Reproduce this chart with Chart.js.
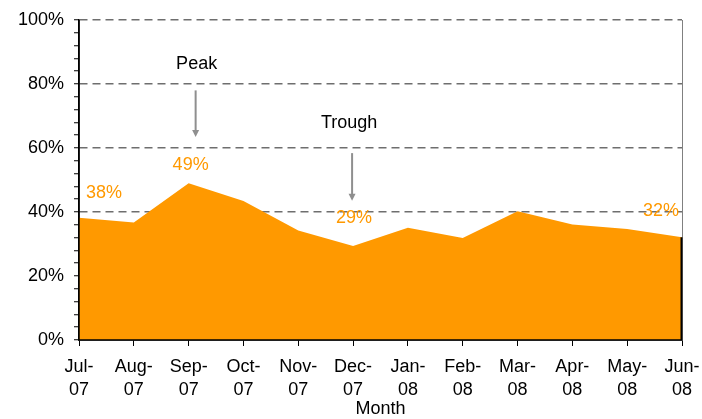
<!DOCTYPE html>
<html><head><meta charset="utf-8">
<script src="https://cdn.jsdelivr.net/npm/chart.js@4"></script>
<style>html,body{margin:0;padding:0;background:#fff}</style>
</head><body>
<canvas id="c" width="702" height="419"></canvas>
<script>
// ---- data ----
const monthLabels = [["Jul-","07"],["Aug-","07"],["Sep-","07"],["Oct-","07"],["Nov-","07"],["Dec-","07"],
                     ["Jan-","08"],["Feb-","08"],["Mar-","08"],["Apr-","08"],["May-","08"],["Jun-","08"]];
const shareValues = [38.2, 36.7, 49.0, 43.4, 34.2, 29.4, 35.1, 31.9, 40.2, 36.1, 34.7, 32.1];
const yMin = 0, yMax = 100, yMinorStep = 4, yMajorStep = 20;
const labelledIndices = [0, 2, 5, 11];
const peakIndex = 2, troughIndex = 5;
const axisTitle = "Month";

// ---- styles ----
const FONT = "'Liberation Sans', Arial, sans-serif";
const ORANGE = '#FF9900';
const labelOffsets = [[25,-25],[2,-18],[1,-28],[-21,-26]];

function arrow(ctx, x, y1, y2){
  ctx.strokeStyle = '#8f8f8f'; ctx.fillStyle = '#8f8f8f'; ctx.lineWidth = 2;
  ctx.beginPath(); ctx.moveTo(x, y1); ctx.lineTo(x, y2 - 5); ctx.stroke();
  ctx.beginPath(); ctx.moveTo(x - 3.5, y2 - 7); ctx.lineTo(x + 3.5, y2 - 7); ctx.lineTo(x, y2); ctx.closePath(); ctx.fill();
}

const overlay = {
  id: 'overlay',
  afterDatasetsDraw(chart){
    const {ctx, chartArea: a, scales: {x, y}} = chart;
    ctx.save();
    // right plot border
    ctx.strokeStyle = '#808080'; ctx.lineWidth = 1;
    ctx.beginPath(); ctx.moveTo(a.right + 0.5, a.top); ctx.lineTo(a.right + 0.5, a.bottom); ctx.stroke();
    // black edge at last point
    const li = shareValues.length - 1;
    const lx = x.getPixelForValue(li);
    ctx.strokeStyle = '#000'; ctx.lineWidth = 2;
    ctx.beginPath(); ctx.moveTo(lx - 0.5, y.getPixelForValue(shareValues[li])); ctx.lineTo(lx - 0.5, y.getPixelForValue(0)); ctx.stroke();
    // axes lines on top
    ctx.lineWidth = 1.5;
    ctx.beginPath(); ctx.moveTo(a.left, a.top); ctx.lineTo(a.left, a.bottom); ctx.lineTo(a.right, a.bottom); ctx.stroke();
    // annotations
    const px = x.getPixelForValue(peakIndex), tx = x.getPixelForValue(troughIndex);
    arrow(ctx, px + 7, y.getPixelForValue(78), y.getPixelForValue(63.4));
    arrow(ctx, tx - 1, y.getPixelForValue(58.4), y.getPixelForValue(43.5));
    ctx.font = '18px ' + FONT; ctx.fillStyle = '#000'; ctx.textAlign = 'center'; ctx.textBaseline = 'middle';
    ctx.fillText('Peak', px + 8, y.getPixelForValue(86.3));
    ctx.fillText('Trough', tx - 4, y.getPixelForValue(67.8));
    // data labels
    ctx.fillStyle = ORANGE;
    labelledIndices.forEach((idx, k) => {
      const v = shareValues[idx];
      ctx.fillText(Math.round(v) + '%', x.getPixelForValue(idx) + labelOffsets[k][0], y.getPixelForValue(v) + labelOffsets[k][1]);
    });
    ctx.restore();
  }
};

new Chart(document.getElementById('c'), {
  type: 'line',
  data: { labels: monthLabels, datasets: [{
    data: shareValues, fill: 'origin', backgroundColor: ORANGE,
    borderWidth: 0, borderColor: 'rgba(0,0,0,0)', pointRadius: 0, tension: 0
  }]},
  options: {
    responsive: false, animation: false, devicePixelRatio: 1,
    layout: { padding: { top: 20, right: 20, left: 0, bottom: 0 } },
    plugins: { legend: { display: false }, tooltip: { enabled: false } },
    scales: {
      x: {
        grid: { drawOnChartArea: false, drawTicks: true, tickLength: 6, tickColor: '#000', tickWidth: 1 },
        border: { display: true, color: '#000', width: 1.5 },
        ticks: { color: '#000', font: { family: FONT, size: 18, lineHeight: 1.3 }, padding: 9, maxRotation: 0, minRotation: 0, autoSkip: false },
        title: { display: true, text: axisTitle, color: '#000', font: { family: FONT, size: 18, lineHeight: 1.1 }, padding: 0 },
        afterFit(s){ s.height = 79; s.paddingLeft = 0; s.paddingRight = 0; }
      },
      y: {
        min: yMin, max: yMax,
        grid: {
          color: c => (c.tick && c.tick.value % yMajorStep === 0 && c.tick.value > yMin) ? '#6e6e6e' : 'rgba(0,0,0,0)',
          lineWidth: 1.5, tickLength: 5, tickColor: '#000', tickWidth: 1
        },
        border: { display: true, color: '#000', width: 1.5, dash: [8, 5] },
        ticks: { stepSize: yMinorStep, autoSkip: false, color: '#000', font: { family: FONT, size: 18 }, padding: 10,
                 callback: v => (v % yMajorStep === 0) ? v + '%' : '' },
        afterFit(s){ s.width = 79; s.paddingTop = 0; s.paddingBottom = 0; }
      }
    }
  },
  plugins: [overlay]
});
</script>
</body></html>
